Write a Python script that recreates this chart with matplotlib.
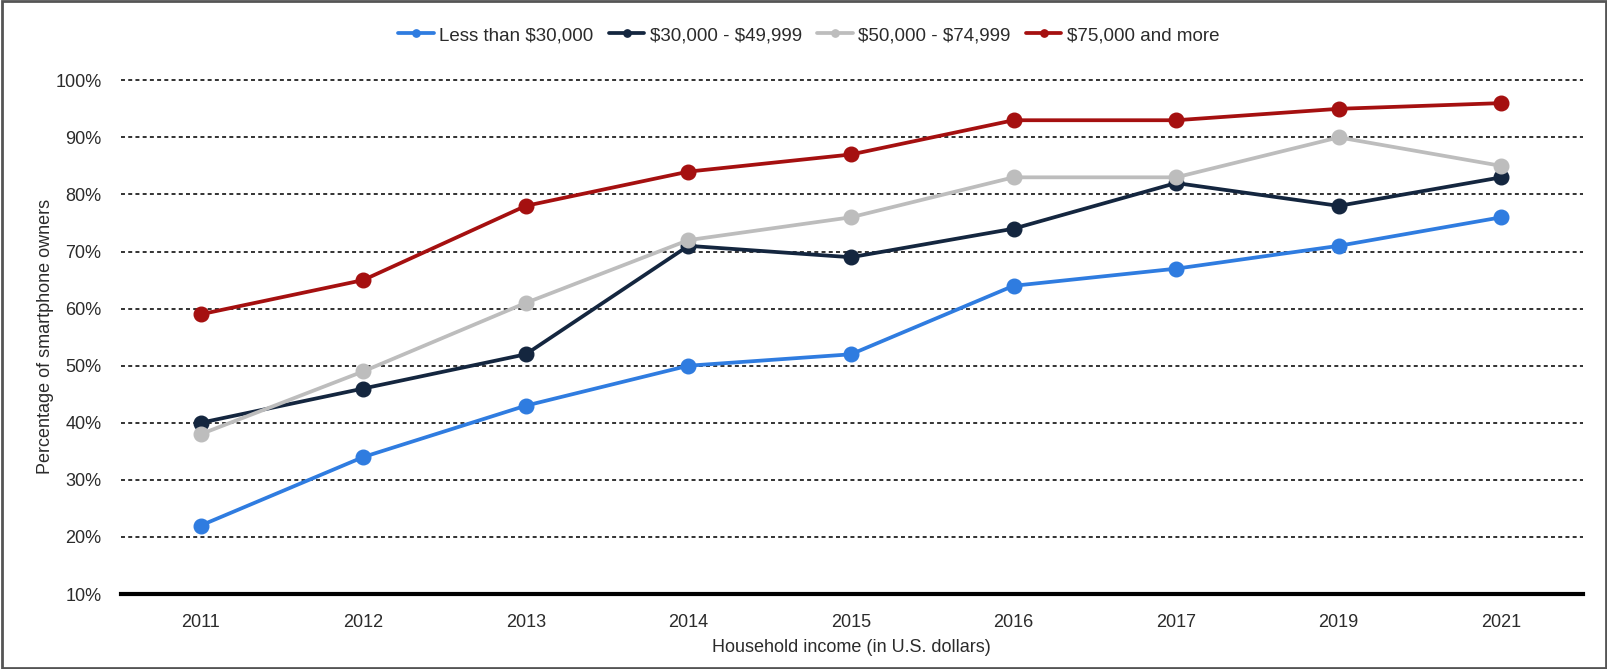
import matplotlib
matplotlib.use("Agg")
import matplotlib.pyplot as plt
from matplotlib.patches import Rectangle

plt.rcParams['font.family'] = ['Liberation Sans', 'DejaVu Sans']

#data
years = ["2011", "2012", "2013", "2014", "2015", "2016", "2017", "2019", "2021"]
less_30k = [22, 34, 43, 50, 52, 64, 67, 71, 76]
from_30k_to_50k = [40, 46, 52, 71, 69, 74, 82, 78, 83]
from_50k_to_75k = [38, 49, 61, 72, 76, 83, 83, 90, 85]
over_75k = [59, 65, 78, 84, 87, 93, 93, 95, 96]

series_names = ["Less than \\$30,000", "\\$30,000 - \\$49,999", "\\$50,000 - \\$74,999", "\\$75,000 and more"]
series_values = [less_30k, from_30k_to_50k, from_50k_to_75k, over_75k]
series_colors = ["#2f7ce0", "#14263f", "#bdbdbd", "#a51010"]

yticks = [10, 20, 30, 40, 50, 60, 70, 80, 90, 100]

fig = plt.figure(figsize=(16.08, 6.69), dpi=100)
# top limit a bit above 100 so the 100% grid line is not clipped
ax = fig.add_axes([0.0752, 0.112, 0.909, 0.771])

x = list(range(len(years)))
for name, vals, col in zip(series_names, series_values, series_colors):
    ax.plot(x, vals, color=col, lw=2.7, marker='o', markersize=10.5, label=name,
            solid_capstyle='round')

ax.set_xlim(-0.49, 8.5)
ax.set_ylim(10, 100.35)
ax.set_yticks(yticks)
ax.set_yticklabels([f"{t}%" for t in yticks])
ax.set_xticks(x)
ax.set_xticklabels(years)
ax.tick_params(axis='both', length=0, labelsize=13, colors='#2b2b2b')
ax.tick_params(axis='y', pad=14)
ax.tick_params(axis='x', pad=14)

#dotted grid lines
ax.grid(axis='y', color='#222222', linestyle=(0, (2.2, 1.8)), lw=1.3)
ax.set_axisbelow(True)
for s in ['left', 'right', 'top']:
    ax.spines[s].set_visible(False)
ax.spines['bottom'].set_linewidth(3)
ax.spines['bottom'].set_color('black')
ax.spines['bottom'].set_zorder(5)

ax.set_xlabel("Household income (in U.S. dollars)", fontsize=13, color='#2b2b2b', labelpad=6)
ax.set_ylabel("Percentage of smartphone owners", fontsize=13, color='#2b2b2b', labelpad=1)

leg = fig.legend(loc='upper center', bbox_to_anchor=(0.503, 0.985), ncol=4, frameon=False,
                 fontsize=13.5, handlelength=1.9, handletextpad=0.3, columnspacing=0.8,
                 markerscale=0.5)
for t in leg.get_texts():
    t.set_color('#2b2b2b')

#gray frame around whole picture
fig.patches.append(Rectangle((0.001, 0.002), 0.998, 0.996, transform=fig.transFigure,
                             fill=False, edgecolor='#555555', lw=2))

fig.savefig("out.png", dpi=100)
